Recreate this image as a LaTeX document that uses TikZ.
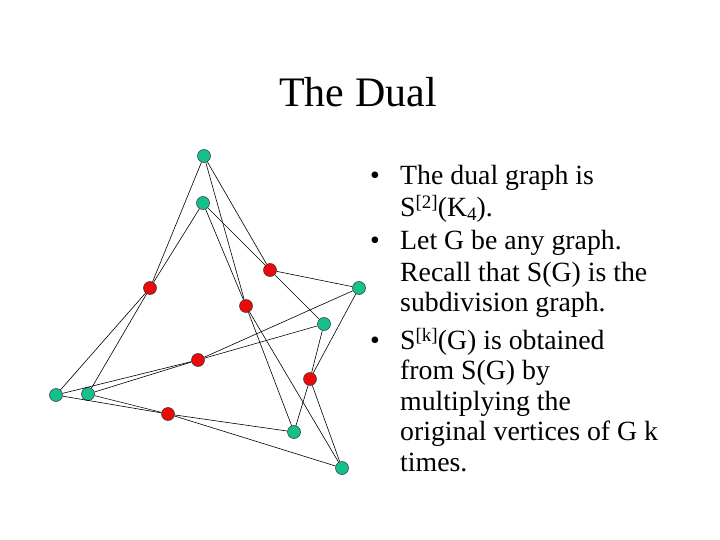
\documentclass[tikz,border=0pt]{standalone}
\usepackage{fontspec}
\setmainfont{Liberation Serif}
\definecolor{vgreen}{RGB}{20,192,140}
\definecolor{vred}{RGB}{235,10,10}
\tikzset{
  gv/.style={circle,draw=black!80,line width=0.5pt,fill=vgreen,minimum size=13pt,inner sep=0pt},
  rv/.style={circle,draw=black!80,line width=0.5pt,fill=vred,minimum size=13pt,inner sep=0pt},
  edge/.style={line width=0.6pt,black},
  txt/.style={anchor=base west,inner sep=0pt,font=\fontsize{27.8}{30}\selectfont},
  bul/.style={anchor=base west,inner sep=0pt,font=\fontsize{27.8}{30}\selectfont}
}
\newcommand{\supr}[1]{\raisebox{8pt}{\fontsize{19}{19}\selectfont #1}}
\newcommand{\subr}[1]{\raisebox{-5pt}{\fontsize{19}{19}\selectfont #1}}
\begin{document}
\begin{tikzpicture}[x=1pt,y=-1pt]
\useasboundingbox (0,0) rectangle (720,540);
% title
\node[anchor=base,inner sep=0pt,font=\fontsize{42}{46}\selectfont] (title) at (358,107) {The Dual};
% vertices
\node[gv] (T1) at (204,156) {};
\node[gv] (T2) at (203,203) {};
\node[gv] (R1) at (359,288) {};
\node[gv] (R2) at (324,324) {};
\node[gv] (L1) at (56,395) {};
\node[gv] (L2) at (88,394) {};
\node[gv] (B1) at (294,432) {};
\node[gv] (B2) at (342,468) {};
\node[rv] (a) at (150,288) {};
\node[rv] (b) at (270,270) {};
\node[rv] (c) at (246,306) {};
\node[rv] (d) at (198,360) {};
\node[rv] (e) at (310,379) {};
\node[rv] (f) at (168,414) {};
% edges
\foreach \r/\p/\q in {a/T/L, b/T/R, c/T/B, d/L/R, e/R/B, f/L/B}{
  \draw[edge] (\r) -- (\p1);
  \draw[edge] (\r) -- (\p2);
  \draw[edge] (\r) -- (\q1);
  \draw[edge] (\r) -- (\q2);
}
% bullets
\node[bul] (b1) at (370,185) {\textbullet};
\node[bul] (b2) at (370,249) {\textbullet};
\node[bul] (b3) at (370,349) {\textbullet};
\node[txt] (l1) at (400,185) {The dual graph is};
\node[txt] (l2) at (400,216) {S\supr{[2]}(K\subr{4}).};
\node[txt] (l3) at (400,249) {Let G be any graph.};
\node[txt] (l4) at (400,281) {Recall that S(G) is the};
\node[txt] (l5) at (400,311) {subdivision graph.};
\node[txt] (l6) at (400,349) {S\supr{[k]}(G) is obtained};
\node[txt] (l7) at (400,379) {from S(G) by};
\node[txt] (l8) at (400,410) {multiplying the};
\node[txt] (l9) at (400,440) {original vertices of G k};
\node[txt] (l10) at (400,471) {times.};
\end{tikzpicture}
\end{document}
